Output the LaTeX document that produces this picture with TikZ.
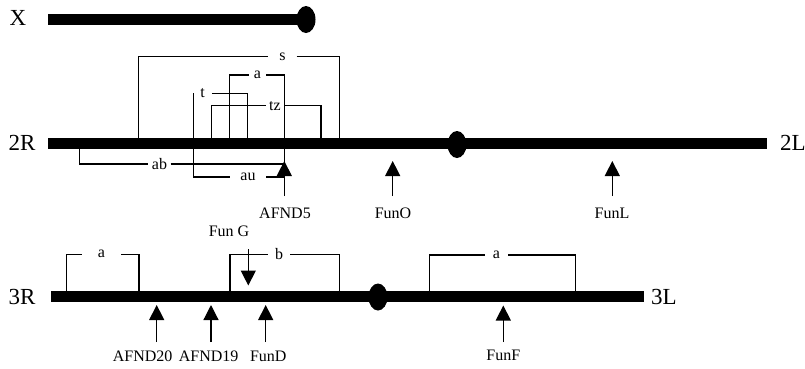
\documentclass[tikz,border=0pt]{standalone}
\usepackage{fontspec}
\setmainfont{Liberation Serif}
\usetikzlibrary{arrows.meta,shapes.geometric}
\begin{document}
\begin{tikzpicture}[x=1pt,y=-1pt,
  chrom/.style={line width=11pt},
  cen/.style={shape=ellipse,fill=black,inner sep=0pt,minimum width=19pt,minimum height=27pt},
  thin/.style={line width=1.1pt},
  arr/.style={line width=1.2pt,-{Triangle[width=15pt,length=15pt]}},
  big/.style={font=\fontsize{23}{23}\selectfont,inner sep=0pt},
  lbl/.style={font=\fontsize{16}{16}\selectfont,inner sep=0pt},
  gap/.style={font=\fontsize{16}{16}\selectfont,inner sep=0pt,minimum height=12pt,minimum width=#1}]
\useasboundingbox (0,0) rectangle (805,368);

% ---------- X ----------
\node[big] (lX) at (18,18) {X};
\coordinate (xa) at (48,19);
\coordinate (xb) at (302,19);
\draw[chrom] (xa) -- (xb);
\node[cen] (cX) at (306,19.5) {};

% ---------- 2R / 2L ----------
\node[big] (l2R) at (22,143) {2R};
\node[big] (l2L) at (793,143) {2L};
% brackets above
\node[gap=28pt] (bs) at (282.5,56.7) {s};
\draw[thin] (138.3,143) -- (138.3,56.7) -- (bs.west);
\draw[thin] (bs.east) -- (339.3,56.7) -- (339.3,143);
\node[gap=17pt] (ba) at (257.5,75) {a};
\draw[thin] (229.3,143) -- (229.3,75) -- (ba.west);
\draw[thin] (ba.east) -- (284.3,75) -- (284.3,143);
\node[gap=18.5pt] (bt) at (202.5,93.3) {t};
\draw[thin] (bt.east) -- (247.7,93.3) -- (247.7,143);
\node[gap=18pt] (btz) at (275,105.7) {tz};
\draw[thin] (211.7,143) -- (211.7,105.7) -- (btz.west);
\draw[thin] (btz.east) -- (321,105.7) -- (321,143);
% brackets below
\node[gap=22pt] (bab) at (159.5,164) {ab};
\draw[thin] (79.3,143) -- (79.3,164) -- (bab.west);
\draw[thin] (bab.east) -- (284.3,164) -- (284.3,143);
\node[gap=36pt] (bau) at (248,177) {au};
\draw[thin] (193.3,93.3) -- (193.3,177) -- (bau.west);
\draw[thin] (bau.east) -- (284.3,177);
% chromosome
\coordinate (ra) at (48,143);
\coordinate (rb) at (766.5,143);
\draw[chrom] (ra) -- (rb);
\node[cen] (c2) at (457,144.5) {};
% markers
\node[lbl] (afnd5) at (285,213) {AFND5};
\node[lbl] (funo) at (393,213) {FunO};
\node[lbl] (funl) at (612,213) {FunL};
\coordinate (t5) at (284.3,161);
\coordinate (tO) at (392.7,161);
\coordinate (tL) at (612.3,161);
\draw[arr] (284.3,196) -- (t5);
\draw[arr] (392.7,196) -- (tO);
\draw[arr] (612.3,196) -- (tL);

% ---------- 3R / 3L ----------
\node[big] (l3R) at (22,296.5) {3R};
\node[big] (l3L) at (664,296.5) {3L};
\node[gap=39pt] (ca) at (101.5,254.3) {a};
\draw[thin] (66.7,296) -- (66.7,254.3) -- (ca.west);
\draw[thin] (ca.east) -- (139,254.3) -- (139,296);
\node[gap=22pt] (cb) at (279,254.3) {b};
\draw[thin] (230,296) -- (230,254.3) -- (cb.west);
\draw[thin] (cb.east) -- (339.3,254.3) -- (339.3,296);
\node[gap=23pt] (cc) at (496.5,255) {a};
\draw[thin] (429.3,296) -- (429.3,255) -- (cc.west);
\draw[thin] (cc.east) -- (575.7,255) -- (575.7,296);
% chromosome
\coordinate (sa) at (51,296.5);
\coordinate (sb) at (643.5,296.5);
\draw[chrom] (sa) -- (sb);
\node[cen] (c3) at (378,297) {};
% markers
\node[lbl] (fung) at (229,231) {Fun G};
\coordinate (tG) at (248.3,285.5);
\draw[arr] (248.3,249) -- (tG);
\node[lbl] (afnd20) at (142.7,356.5) {AFND20};
\node[lbl] (afnd19) at (208.7,356.5) {AFND19};
\node[lbl] (fund) at (268.3,356.5) {FunD};
\node[lbl] (funf) at (503.3,355.5) {FunF};
\coordinate (t20) at (156.7,305);
\coordinate (t19) at (211,305);
\coordinate (tD) at (265.7,305);
\coordinate (tF) at (503.3,305.5);
\draw[arr] (156.7,342) -- (t20);
\draw[arr] (211,342) -- (t19);
\draw[arr] (265.7,342) -- (tD);
\draw[arr] (503.3,342) -- (tF);
\end{tikzpicture}
\end{document}
